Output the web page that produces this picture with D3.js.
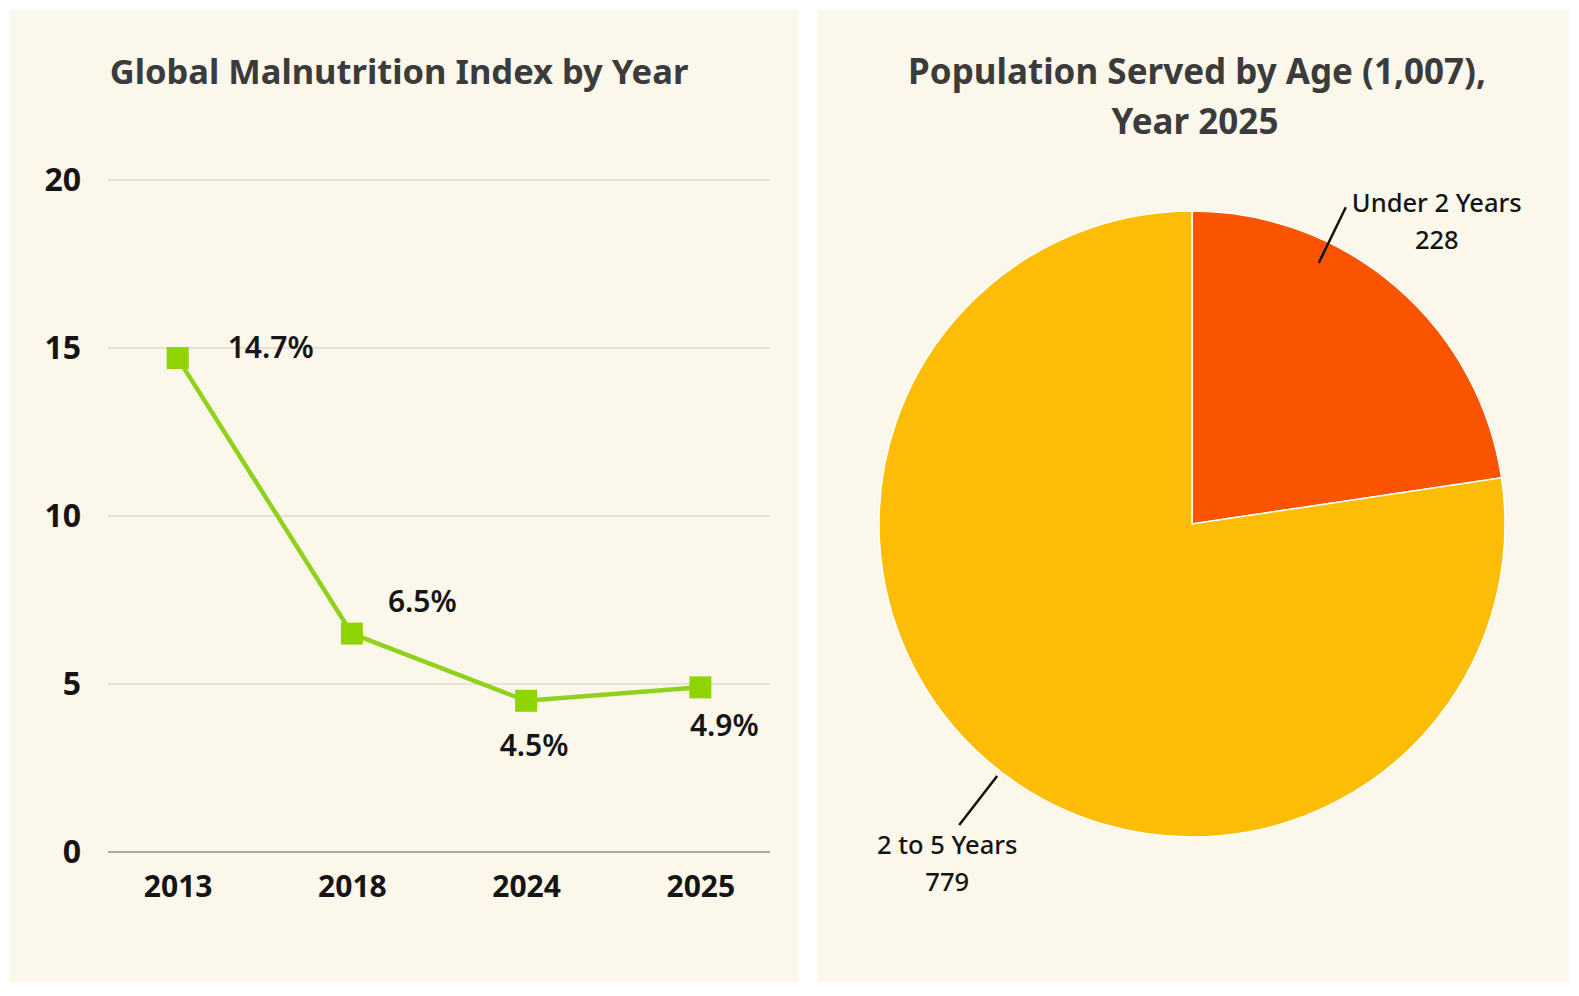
<!DOCTYPE html>
<html>
<head>
<meta charset="utf-8">
<script src="https://cdn.jsdelivr.net/npm/d3@7/dist/d3.min.js"></script>
<style>
  html, body { margin: 0; padding: 0; background: #ffffff; }
  svg { display: block; font-family: "Noto Sans", "Open Sans", sans-serif; }
</style>
</head>
<body>
<div id="chart"></div>
<script>
// line chart data
const years = ["2013", "2018", "2024", "2025"];
const indexValues = [14.7, 6.5, 4.5, 4.9];
const labelPlacement = ["e", "ne", "s", "se"];
const yTicks = [0, 5, 10, 15, 20];

// pie data
const ageGroups = ["Under 2 Years", "2 to 5 Years"];
const served = [228, 779];
const sliceColors = ["#fa5400", "#fdbd07"];

const W = 1579, H = 996;
const svg = d3.select("#chart").append("svg")
  .attr("width", W).attr("height", H);

// panels
const panels = [
  {x: 10, y: 10, w: 788, h: 972},
  {x: 817, y: 10, w: 752, h: 972}
];
svg.selectAll("rect.panel").data(panels).enter().append("rect")
  .attr("class", "panel")
  .attr("x", d => d.x).attr("y", d => d.y)
  .attr("width", d => d.w).attr("height", d => d.h)
  .attr("fill", "#fcf7eb");

// ---------- left: line chart ----------
const left = svg.append("g");
left.append("text")
  .attr("x", 399).attr("y", 84)
  .attr("text-anchor", "middle")
  .attr("font-size", 34.5).attr("font-weight", 700)
  .attr("fill", "#3b3b3b")
  .text("Global Malnutrition Index by Year");

const x = d3.scalePoint().domain(years).range([108, 770]).padding(0.4);
const y = d3.scaleLinear().domain([0, 20]).range([852, 180]);

left.append("g").selectAll("line").data(yTicks).enter().append("line")
  .attr("x1", 108).attr("x2", 770)
  .attr("y1", d => y(d)).attr("y2", d => y(d))
  .attr("stroke", d => d === 0 ? "#a9a9a6" : "#dedbd0")
  .attr("stroke-width", d => d === 0 ? 2.2 : 1.3);

const yAxis = left.append("g")
  .attr("transform", "translate(81,0)")
  .call(d3.axisLeft(y).tickValues(yTicks).tickSize(0).tickPadding(0));
yAxis.select(".domain").remove();
yAxis.selectAll("text")
  .attr("font-size", 32).attr("font-weight", 700)
  .attr("font-family", "'Noto Sans', sans-serif")
  .attr("fill", "#151515");

const xAxis = left.append("g")
  .attr("transform", "translate(0,873)")
  .call(d3.axisBottom(x).tickSize(0).tickPadding(0));
xAxis.select(".domain").remove();
xAxis.selectAll("text")
  .attr("dy", "0.8em")
  .attr("font-size", 30).attr("font-weight", 700)
  .attr("font-family", "'Noto Sans', sans-serif")
  .attr("fill", "#151515");

const pts = years.map((yr, i) => ({yr, v: indexValues[i], pos: labelPlacement[i]}));
const line = d3.line().x(d => x(d.yr)).y(d => y(d.v));
left.append("path")
  .datum(pts)
  .attr("d", line)
  .attr("fill", "none")
  .attr("stroke", "#8fd11c")
  .attr("stroke-width", 4.5);

const ms = 22;
left.selectAll("rect.marker").data(pts).enter().append("rect")
  .attr("class", "marker")
  .attr("x", d => x(d.yr) - ms / 2).attr("y", d => y(d.v) - ms / 2)
  .attr("width", ms).attr("height", ms)
  .attr("fill", "#8fd400");

// label offsets from the marker: dx, dy (baseline), anchor
const offs = {
  e: [50, 0, "start"],
  ne: [36, -22, "start"],
  s: [8, 55, "middle"],
  se: [24, 49, "middle"]
};
left.selectAll("text.vlabel").data(pts).enter().append("text")
  .attr("class", "vlabel")
  .attr("x", d => x(d.yr) + offs[d.pos][0])
  .attr("y", d => y(d.v) + offs[d.pos][1])
  .attr("text-anchor", d => offs[d.pos][2])
  .attr("font-size", 30).attr("font-weight", 600)
  .attr("fill", "#161616")
  .text(d => d.v + "%");

// ---------- right: pie chart ----------
const right = svg.append("g");
const total = d3.sum(served);
right.append("text")
  .attr("x", 1197).attr("y", 84)
  .attr("text-anchor", "middle")
  .attr("font-size", 35).attr("font-weight", 700)
  .attr("fill", "#3b3b3b")
  .text("Population Served by Age (" + d3.format(",")(total) + "),");
right.append("text")
  .attr("x", 1195).attr("y", 134)
  .attr("text-anchor", "middle")
  .attr("font-size", 35).attr("font-weight", 700)
  .attr("fill", "#3b3b3b")
  .text("Year 2025");

const cx = 1192, cy = 524, r = 313;
const pie = d3.pie().sort(null).value(d => d.v);
const slices = pie(ageGroups.map((g, i) => ({g, v: served[i], c: sliceColors[i]})));
const arc = d3.arc().innerRadius(0).outerRadius(r);

const pg = right.append("g").attr("transform", `translate(${cx},${cy})`);
pg.selectAll("path").data(slices).enter().append("path")
  .attr("d", arc)
  .attr("fill", d => d.data.c)
  .attr("stroke", "#ffffff")
  .attr("stroke-width", 1.5);

const polar = (a, rr) => [Math.sin(a) * rr, -Math.cos(a) * rr];
const mid = d => (d.startAngle + d.endAngle) / 2;

const lbl = pg.selectAll("text.plabel").data(slices).enter().append("text")
  .attr("class", "plabel")
  .attr("transform", d => {
    const p = polar(mid(d) - 0.06, r * 1.29);
    return `translate(${p[0]},${p[1]})`;
  })
  .attr("text-anchor", "middle")
  .attr("font-size", 25.5).attr("font-weight", 500)
  .attr("fill", "#141414");
lbl.append("tspan").attr("x", 0).attr("dy", "0.35em").text(d => d.data.g);
lbl.append("tspan").attr("x", 0).attr("dy", "1.45em").text(d => d.data.v);

// leader lines: from the near edge of the label's first line toward the centre
lbl.each(function (d) {
  const first = d3.select(this).select("tspan").node().getBBox();
  const p = polar(mid(d) - 0.06, r * 1.29);
  let sx, sy;
  if (p[0] > 0) { sx = p[0] + first.x - 6; sy = p[1] + first.y + first.height * 0.66; }
  else { sx = p[0] + 12; sy = p[1] + first.y - 2; }
  const len = Math.hypot(sx, sy), L = 62;
  pg.append("line")
    .attr("x1", sx).attr("y1", sy)
    .attr("x2", sx - sx / len * L).attr("y2", sy - sy / len * L)
    .attr("stroke", "#111")
    .attr("stroke-width", 2.5);
});
</script>
</body>
</html>
